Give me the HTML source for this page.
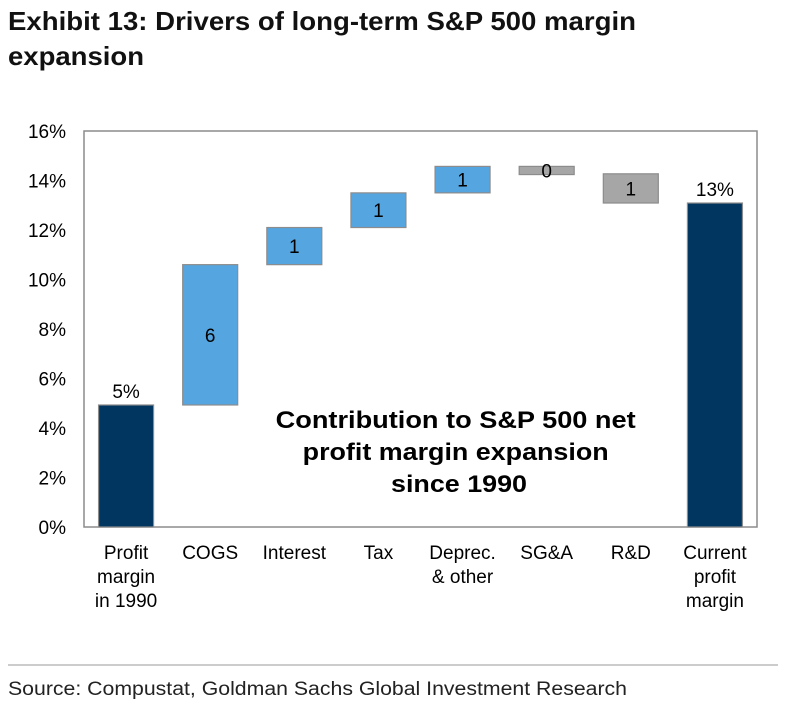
<!DOCTYPE html>
<html><head><meta charset="utf-8"><style>
body{margin:0;background:#fff;width:796px;height:714px;overflow:hidden;font-family:"Liberation Sans",sans-serif}
</style></head><body>
<svg width="796" height="714" xmlns="http://www.w3.org/2000/svg" font-family="Liberation Sans, sans-serif">
<text x="8" y="30" font-size="26" font-weight="bold" fill="#111" textLength="628" lengthAdjust="spacingAndGlyphs">Exhibit 13: Drivers of long-term S&amp;P 500 margin</text>
<text x="8" y="65" font-size="26" font-weight="bold" fill="#111" textLength="136" lengthAdjust="spacingAndGlyphs">expansion</text>
<rect x="84" y="131" width="673" height="396" fill="none" stroke="#8c8c8c" stroke-width="1.5"/>
<g id="yaxis"></g><g id="bars"></g><g id="xlabels"></g>
<text font-size="24" font-weight="bold" text-anchor="middle" fill="#000">
<tspan x="459" y="428" textLength="360" lengthAdjust="spacingAndGlyphs">Contribution to S&amp;P 500 net</tspan>
<tspan x="459" y="460" textLength="306" lengthAdjust="spacingAndGlyphs">profit margin expansion</tspan>
<tspan x="459" y="492" textLength="136" lengthAdjust="spacingAndGlyphs">since 1990</tspan></text>
<line x1="8" y1="665" x2="778" y2="665" stroke="#999" stroke-width="1"/>
<text x="8" y="695" font-size="19" fill="#222" textLength="619" lengthAdjust="spacingAndGlyphs">Source: Compustat, Goldman Sachs Global Investment Research</text>
</svg>
<script>
const categories=[["Profit","margin","in 1990"],["COGS"],["Interest"],["Tax"],["Deprec.","& other"],["SG&A"],["R&D"],["Current","profit","margin"]];
const bottoms=[0,4.93,10.6,12.1,13.5,14.24,13.09,0];
const tops=[4.93,10.6,12.1,13.5,14.57,14.57,14.27,13.09];
const kinds=["total","up","up","up","up","down","down","total"];
const barLabels=["5%","6","1","1","1","0","1","13%"];
const yTicks=[0,2,4,6,8,10,12,14,16];
const NS="http://www.w3.org/2000/svg";
const x0=84,pw=673,y0=527,ph=396,ymax=16;
const y=v=>y0-v/ymax*ph;
const band=pw/categories.length;
const xc=i=>x0+band*(i+0.5);
function mk(t,a,p){const e=document.createElementNS(NS,t);for(const k in a)e.setAttribute(k,a[k]);p.appendChild(e);return e;}
const ya=document.getElementById('yaxis');
yTicks.forEach(v=>{const t=mk('text',{x:66,y:y(v)+7,'font-size':19,'text-anchor':'end',fill:'#000'},ya);


t.textContent=v+'%';});
const bg=document.getElementById('bars');
const col={total:'#003660',up:'#55a5e0',down:'#a6a6a6'};
categories.forEach((c,i)=>{
 const bw=55;
 const r=mk('rect',{x:xc(i)-bw/2,y:y(tops[i]),width:bw,height:y(bottoms[i])-y(tops[i]),fill:col[kinds[i]],stroke:'#8c8c8c','stroke-width':1.2},bg);
 
 
 let ly=kinds[i]==='total'?y(tops[i])-7:(y(tops[i])+y(bottoms[i]))/2+7;
 const t=mk('text',{x:xc(i),y:ly,'font-size':19,'text-anchor':'middle',fill:'#000'},bg);
 
 
 t.textContent=barLabels[i];
 const xl=mk('text',{'font-size':19,'text-anchor':'middle',fill:'#000'},document.getElementById('xlabels'));
 
 
 c.forEach((s,j)=>{const ts=mk('tspan',{x:xc(i),y:559+j*24},xl);ts.textContent=s;});
});
</script>
</body></html>
